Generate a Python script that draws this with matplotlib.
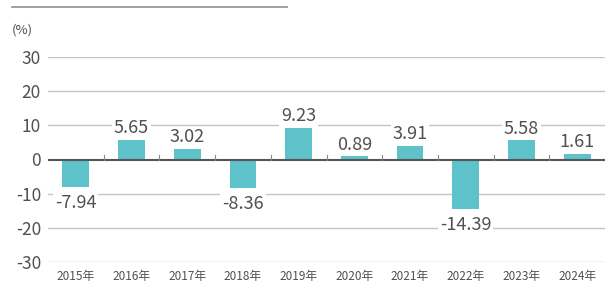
import matplotlib.pyplot as plt
from matplotlib.lines import Line2D

plt.rcParams['font.family'] = ['Noto Sans CJK JP', 'DejaVu Sans']

# data
years = ['2015年', '2016年', '2017年', '2018年', '2019年',
         '2020年', '2021年', '2022年', '2023年', '2024年']
values = [-7.94, 5.65, 3.02, -8.36, 9.23, 0.89, 3.91, -14.39, 5.58, 1.61]
yticks = [-30, -20, -10, 0, 10, 20, 30]

BAR = '#5dc2c9'
TXT = '#505050'

fig = plt.figure(figsize=(6.11, 2.89), dpi=100)
ax = fig.add_axes([48 / 611, 27 / 289, 557 / 611, 205 / 289])

x = list(range(len(years)))
ax.bar(x, values, width=0.48, color=BAR, zorder=2)

ax.set_xlim(-0.5, len(years) - 0.5)
ax.set_ylim(-30, 30)
ax.set_yticks(yticks)
ax.set_yticklabels([str(t) for t in yticks], fontsize=12.5, color=TXT)
ax.set_xticks(x)
ax.set_xticklabels(years, fontsize=8.5, color=TXT)
ax.tick_params(axis='both', length=0)
ax.tick_params(axis='y', pad=5)
ax.tick_params(axis='x', pad=6)

for s in ax.spines.values():
    s.set_visible(False)

# grid lines
for t in yticks:
    if t == 0:
        ax.axhline(0, color='#555555', lw=1.5, zorder=3)
    else:
        ax.axhline(t, color='#c4c4c4', lw=1.0, zorder=1)

# small separators on the zero line
for i in range(len(years) - 1):
    ax.plot([i + 0.5, i + 0.5], [0, 1.3], color='#888888', lw=0.8, zorder=3)

# value labels
for i, v in enumerate(values):
    if v >= 0:
        ax.annotate(f'{v:.2f}', (i, v), xytext=(0, 2), textcoords='offset points',
                    ha='center', va='bottom', fontsize=13, color=TXT, zorder=4,
                    bbox=dict(boxstyle='square,pad=0.1', fc='white', ec='none'))
    else:
        ax.annotate(f'{v:.2f}', (i, v), xytext=(0, -5), textcoords='offset points',
                    ha='center', va='top', fontsize=13, color=TXT, zorder=4,
                    bbox=dict(boxstyle='square,pad=0.1', fc='white', ec='none'))

fig.text(12 / 611, 1 - 30 / 289, '(%)', fontsize=9.5, color=TXT, va='center')

# header rule at the top (title clipped)
fig.add_artist(Line2D([12 / 611, 287 / 611], [1 - 7 / 289, 1 - 7 / 289],
                      color='#999999', lw=1.3))

fig.savefig('out.png', dpi=100)
